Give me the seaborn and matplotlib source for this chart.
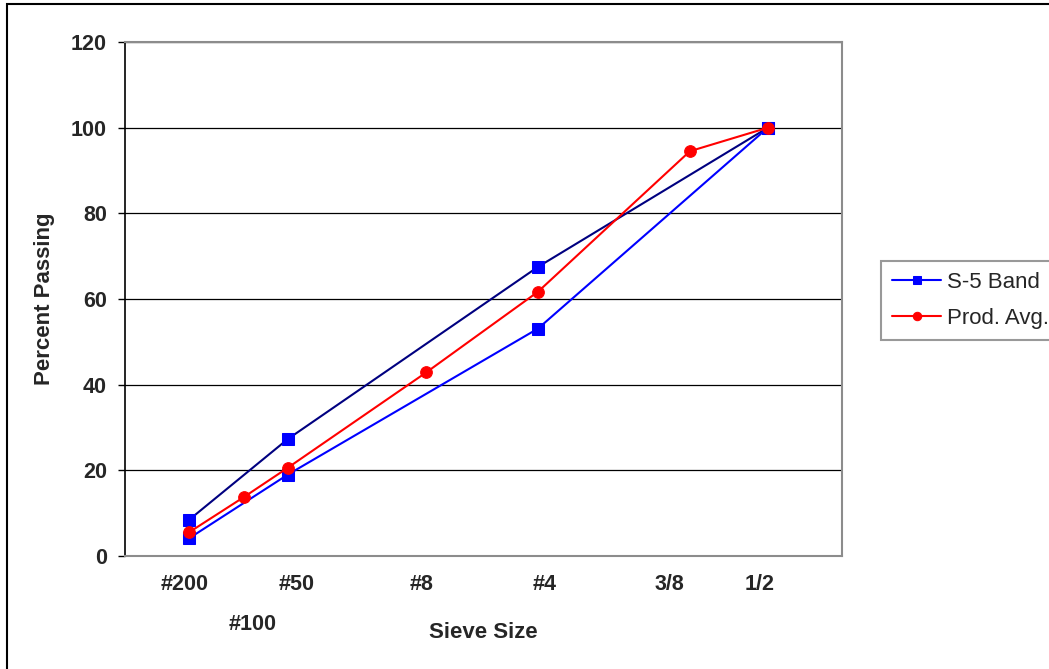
import matplotlib
matplotlib.use("Agg")
import matplotlib.pyplot as plt
from matplotlib.patches import Rectangle
import numpy as np
import seaborn as sns

# Sieve openings (mm) and percent passing
band_mm = [0.075, 0.6, 4.75, 12.7]
band_upper = [8.4, 27.3, 67.5, 100.0]
band_lower = [4.1, 19.0, 53.1, 100.0]

prod_mm = [0.075, 0.3, 0.6, 2.36, 4.75, 9.525, 12.7]
prod_avg = [5.5, 13.8, 20.6, 42.9, 61.7, 94.5, 100.0]

# Sieve labels along the 0.45-power axis
sieve_labels = ["#200", "#100", "#50", "#8", "#4", "3/8", "1/2"]
sieve_label_pos = [0.293, 0.625, 0.839, 1.449, 2.050, 2.660, 3.099]

POWER = 0.45

sns.set_style("white")
plt.rcParams["font.family"] = ["Liberation Sans", "DejaVu Sans"]

W, H = 1049, 669
fig = plt.figure(figsize=(W / 100, H / 100), dpi=100)
ax = fig.add_axes([125 / W, 1 - 556 / H, (842 - 125) / W, (556 - 42) / H])

upper_x = np.power(band_mm, POWER)
prod_x = np.power(prod_mm, POWER)

line_kw = dict(lw=1.5, markersize=8.6, sort=False)
sns.lineplot(x=upper_x, y=band_upper, ax=ax, color="#000080", marker="s",
             markerfacecolor="#0000FF", markeredgecolor="#0000FF", **line_kw)
sns.lineplot(x=upper_x, y=band_lower, ax=ax, color="#0000FF", marker="s",
             markerfacecolor="#0000FF", markeredgecolor="#0000FF", **line_kw)
sns.lineplot(x=prod_x, y=prod_avg, ax=ax, color="#FF0000", marker="o",
             markerfacecolor="#FF0000", markeredgecolor="#FF0000",
             lw=1.5, markersize=8.4, sort=False)

ax.set_xlim(0, 3.5)
ax.set_ylim(0, 120)
ax.set_yticks(np.arange(0, 121, 20))
ax.set_xticks(sieve_label_pos)
ax.set_xticklabels(sieve_labels)

ax.yaxis.grid(True, color="black", lw=0.9)
ax.xaxis.grid(False)
ax.set_axisbelow(True)

for side in ["top", "right", "bottom"]:
    ax.spines[side].set_color("#8c8c8c")
    ax.spines[side].set_linewidth(1.5)
ax.spines["left"].set_color("black")
ax.spines["left"].set_linewidth(1.2)

ax.tick_params(axis="y", which="major", left=True, length=5, width=1,
               color="black", pad=8, labelsize=15.5)
ax.tick_params(axis="x", which="major", bottom=False, length=0, pad=13,
               labelsize=15.5)
for lab in ax.get_xticklabels() + ax.get_yticklabels():
    lab.set_fontweight("bold")

# stagger the second sieve label onto a lower row
ax.xaxis.get_major_ticks()[1].set_pad(42)

ax.set_xlabel("Sieve Size", fontsize=16, fontweight="bold", va="center")
ax.set_ylabel("Percent Passing", fontsize=16, fontweight="bold", va="center")
ax.xaxis.set_label_coords(0.5, (556 - 633) / (556 - 42))
ax.yaxis.set_label_coords((45 - 125) / (842 - 125), 0.5)

lines = ax.get_lines()
leg = fig.legend([lines[1], lines[2]], ["S-5 Band", "Prod. Avg."],
                 loc="upper left", bbox_to_anchor=(881 / W, 1 - 261 / H),
                 bbox_transform=fig.transFigure, fontsize=16,
                 frameon=True, fancybox=False, shadow=False,
                 handlelength=2.2, handletextpad=0.25, borderpad=0.5,
                 labelspacing=0.68, markerscale=0.72, borderaxespad=0)
leg.get_frame().set_edgecolor("#808080")
leg.get_frame().set_linewidth(1.5)

fig.add_artist(Rectangle((7 / W, -0.1), 1.2, (1 - 4 / H) + 0.1,
                         transform=fig.transFigure, fill=False,
                         lw=1.5, ec="black"))

fig.savefig("out.png", dpi=100, facecolor="white")
